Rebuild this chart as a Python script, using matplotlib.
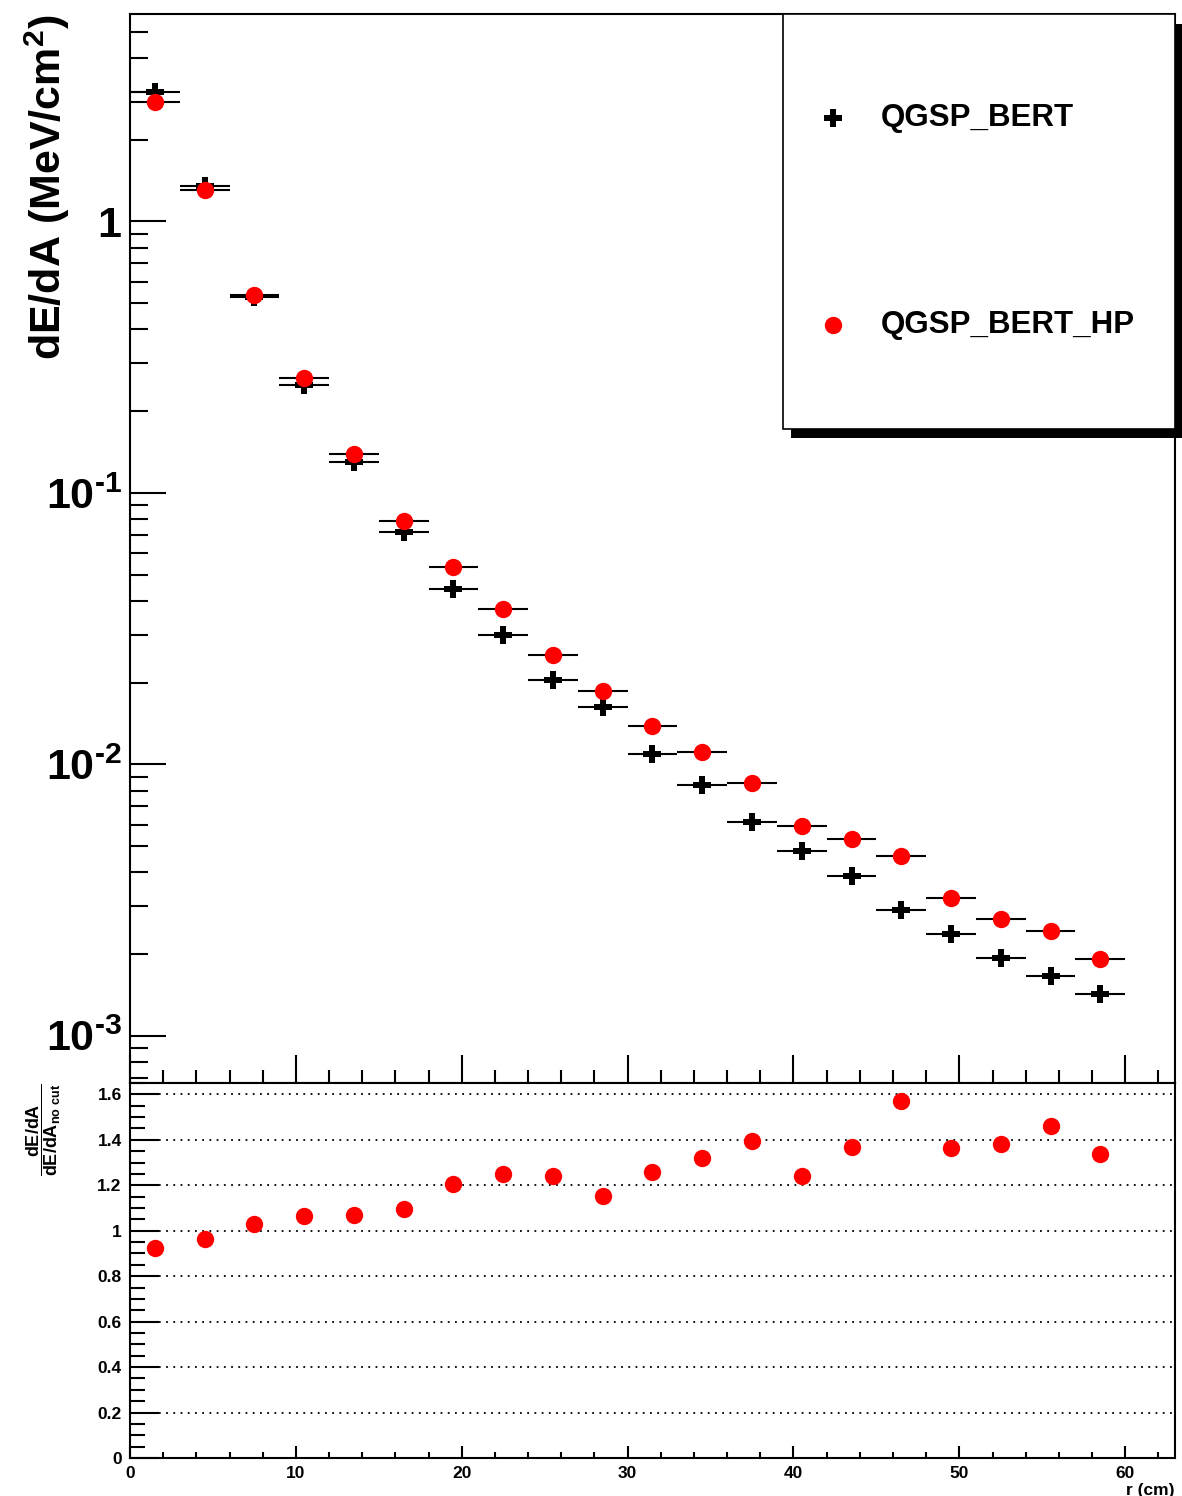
import matplotlib
matplotlib.use("Agg")
import matplotlib.pyplot as plt
from matplotlib.patches import Rectangle
from matplotlib.lines import Line2D
from matplotlib.ticker import FixedLocator, MultipleLocator, LogLocator, FuncFormatter, NullFormatter
import numpy as np

# bin centres (cm) and half width of each radial bin
r_centers = [1.5, 4.5, 7.5, 10.5, 13.5, 16.5, 19.5, 22.5, 25.5, 28.5,
             31.5, 34.5, 37.5, 40.5, 43.5, 46.5, 49.5, 52.5, 55.5, 58.5]
r_half_width = 1.5

qgsp_bert = [2.99, 1.35, 0.525, 0.249, 0.130, 0.0718, 0.0441, 0.0299, 0.0204, 0.0162,
             0.01095, 0.00842, 0.00611, 0.00479, 0.00388, 0.00291, 0.00237, 0.00194, 0.00166, 0.00143]
qgsp_bert_hp = [2.75, 1.31, 0.535, 0.266, 0.1386, 0.0785, 0.0535, 0.0372, 0.0252, 0.01865,
                0.0138, 0.0111, 0.00853, 0.00594, 0.0053, 0.00458, 0.00323, 0.00269, 0.00243, 0.00192]
ratio_hp = [0.923, 0.963, 1.031, 1.065, 1.070, 1.096, 1.207, 1.250, 1.240, 1.155,
            1.260, 1.320, 1.393, 1.241, 1.370, 1.569, 1.366, 1.380, 1.462, 1.336]

labels = ["QGSP_BERT", "QGSP_BERT_HP"]

plt.rcParams["font.family"] = ["Liberation Sans", "DejaVu Sans"]
plt.rcParams["font.weight"] = "bold"
plt.rcParams["mathtext.fontset"] = "custom"
for k in ("rm", "it", "bf", "sf"):
    plt.rcParams[f"mathtext.{k}"] = "Liberation Sans:bold"
plt.rcParams["mathtext.default"] = "rm"

W, H = 1182, 1496


def fx(px):
    return px / W


def fy(py):
    return 1 - py / H


fig = plt.figure(figsize=(W / 100, H / 100), dpi=100)
ax1 = fig.add_axes([fx(130), fy(1083), (1175 - 130) / W, (1083 - 13.6) / H])
ax2 = fig.add_axes([fx(130), fy(1458), (1175 - 130) / W, (1458 - 1083) / H])

for ax in (ax1, ax2):
    for sp in ax.spines.values():
        sp.set_linewidth(1.5)
    ax.set_xlim(0, 63)

# top panel
ax1.errorbar(r_centers, qgsp_bert, xerr=r_half_width, fmt="P", color="black",
             ecolor="black", elinewidth=1.5, markersize=13, markeredgewidth=0, capsize=0)
ax1.errorbar(r_centers, qgsp_bert_hp, xerr=r_half_width, fmt="o", color="red",
             ecolor="black", elinewidth=1.5, markersize=12.5, markeredgewidth=0, capsize=0)
ax1.set_yscale("log")
ax1.set_ylim(6.7e-4, 5.83)


def log_fmt(v, pos):
    e = int(round(np.log10(v)))
    if e == 0:
        return "1"
    return r"$10^{\text{-}%d}$" % abs(e)


ax1.yaxis.set_major_locator(FixedLocator([1e-3, 1e-2, 1e-1, 1]))
ax1.yaxis.set_major_formatter(FuncFormatter(log_fmt))
ax1.yaxis.set_minor_locator(LogLocator(base=10, subs=np.arange(2, 10), numticks=20))
ax1.yaxis.set_minor_formatter(NullFormatter())
ax1.tick_params(axis="y", which="major", direction="in", length=26, width=1.5,
                labelsize=31, pad=6, right=False)
ax1.tick_params(axis="y", which="minor", direction="in", length=13, width=1.5, right=False)
ax1.xaxis.set_major_locator(MultipleLocator(10))
ax1.xaxis.set_minor_locator(MultipleLocator(2))
ax1.tick_params(axis="x", which="major", direction="in", length=20, width=1.5,
                labelbottom=False, top=False)
ax1.tick_params(axis="x", which="minor", direction="in", length=9.5, width=1.5, top=False)

# ratio panel
ax2.plot(r_centers, ratio_hp, "o", color="red", markersize=12.5, markeredgewidth=0)
ax2.set_ylim(0, 1.65)
ax2.yaxis.set_major_locator(MultipleLocator(0.2))
ax2.yaxis.set_minor_locator(MultipleLocator(0.05))
ax2.yaxis.set_major_formatter(FuncFormatter(lambda v, p: f"{v:g}"))
ax2.xaxis.set_major_locator(MultipleLocator(10))
ax2.xaxis.set_minor_locator(MultipleLocator(2))
ax2.tick_params(axis="y", which="major", direction="in", length=21, width=1.5,
                labelsize=12.5, pad=6, right=False)
ax2.tick_params(axis="y", which="minor", direction="in", length=11, width=1.5, right=False)
ax2.tick_params(axis="x", which="major", direction="in", length=9, width=1.5,
                labelsize=12.5, pad=6, top=False)
ax2.tick_params(axis="x", which="minor", direction="in", length=4, width=1.5, top=False)
ax2.yaxis.grid(True, which="major", linestyle=(0, (1, 3)), color="black", linewidth=1.3)
ax2.set_axisbelow(True)

# axis titles
fig.text(fx(47), fy(14), "dE/dA (MeV/cm$^{2}$)", rotation=90, ha="center", va="top",
         fontsize=31, fontweight="bold")
fig.text(fx(44), fy(1083), r"$\dfrac{dE/dA}{dE/dA_{no\ cut}}$", rotation=90,
         ha="center", va="top", fontsize=13)
fig.text(fx(1174), fy(1483), "r (cm)", ha="right", va="top", fontsize=12.5, fontweight="bold")

# legend box with ROOT-like shadow
shadow = Rectangle((fx(791), fy(438)), (1182 - 791) / W, (438 - 24) / H,
                   transform=fig.transFigure, facecolor="black", edgecolor="none", zorder=5)
box = Rectangle((fx(783), fy(429)), (1175 - 783) / W, (429 - 13.6) / H,
                transform=fig.transFigure, facecolor="white", edgecolor="black",
                linewidth=1.2, zorder=6)
fig.add_artist(shadow)
fig.add_artist(box)
fig.add_artist(Line2D([fx(833)], [fy(118)], marker="P", color="black", markersize=13,
                      markeredgewidth=0, transform=fig.transFigure, zorder=7))
fig.add_artist(Line2D([fx(833)], [fy(325)], marker="o", color="red", markersize=12.5,
                      markeredgewidth=0, transform=fig.transFigure, zorder=7))
fig.text(fx(881), fy(118), labels[0], ha="left", va="center", fontsize=22.5,
         fontweight="bold", zorder=7)
fig.text(fx(881), fy(325), labels[1], ha="left", va="center", fontsize=22.5,
         fontweight="bold", zorder=7)

fig.savefig("out.png", dpi=100)
